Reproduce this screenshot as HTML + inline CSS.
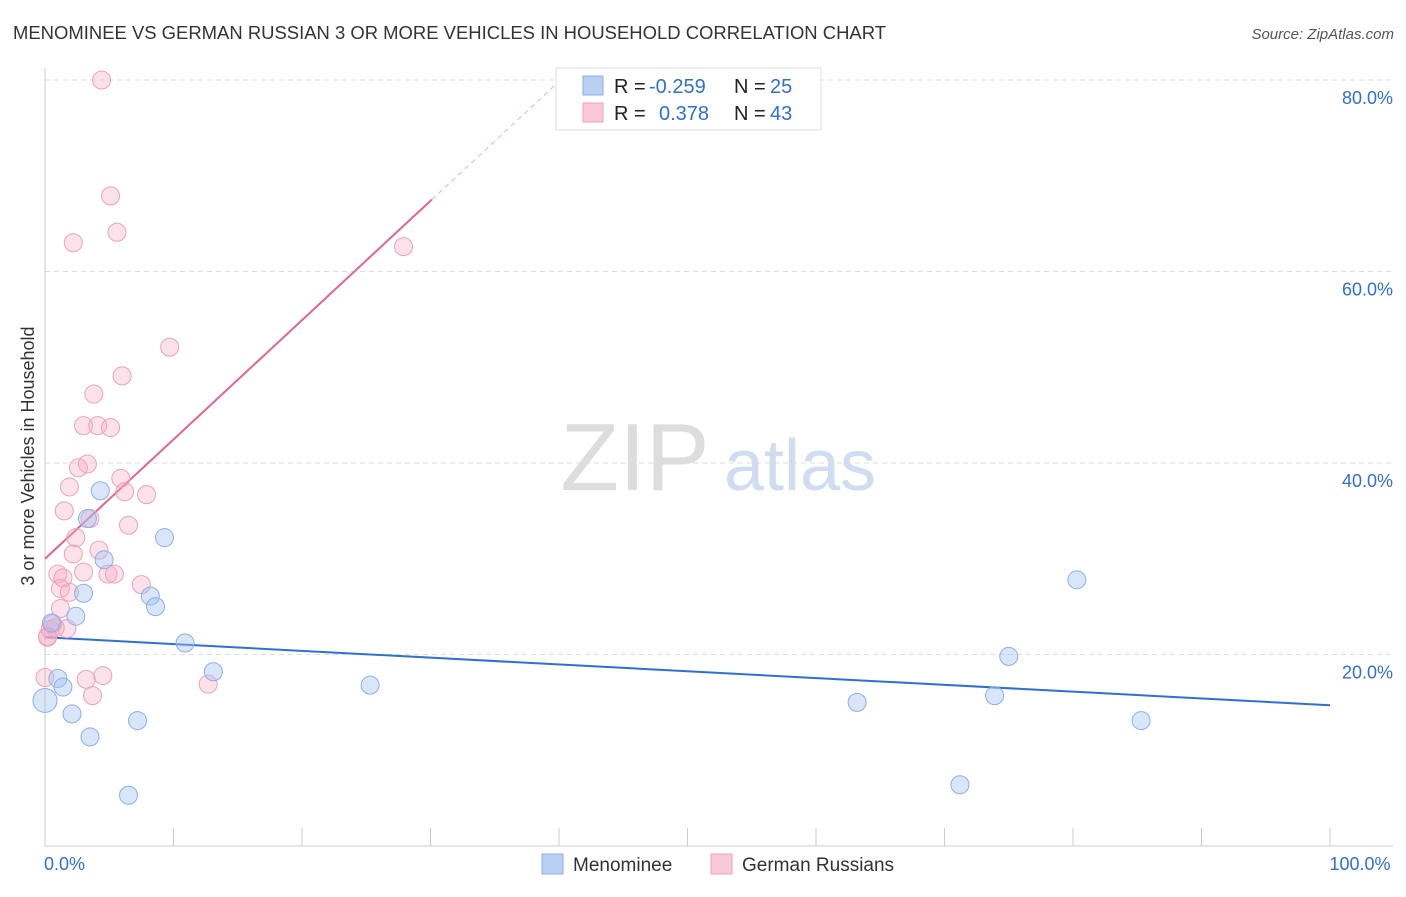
<!DOCTYPE html>
<html><head><meta charset="utf-8">
<style>
body{margin:0;background:#fff;font-family:"Liberation Sans",sans-serif;}
svg text{font-family:"Liberation Sans",sans-serif;}
</style></head>
<body>
<svg id="chart" width="1406" height="892">
<text x="13" y="39" font-size="18" fill="#333" textLength="873" lengthAdjust="spacingAndGlyphs">MENOMINEE VS GERMAN RUSSIAN 3 OR MORE VEHICLES IN HOUSEHOLD CORRELATION CHART</text>
<text x="1394" y="39" font-size="15" fill="#555" font-style="italic" text-anchor="end">Source: ZipAtlas.com</text>
<text x="34" y="456" font-size="18" fill="#333" text-anchor="middle" transform="rotate(-90 34 456)">3 or more Vehicles in Household</text>
<g><text x="635" y="490" font-size="96" font-family="Liberation Serif" fill="#ddd" text-anchor="middle">ZIP</text><text x="800" y="490" font-size="72" fill="#cfdcf2" text-anchor="middle">atlas</text></g>
<g id="grid"></g><g id="axes"></g><g id="trend"></g><g id="pts"></g>
<g>
<rect x="556" y="68" width="265" height="62" fill="#fff" stroke="#ddd"/>
<rect x="583" y="76" width="20" height="19" fill="#b8d0f4" stroke="#8ab0e8"/>
<rect x="583" y="103" width="20" height="19" fill="#f9c8d8" stroke="#f0a0bc"/>
<text x="614" y="93" font-size="20" fill="#222">R =</text><text x="649" y="93" font-size="20" fill="#2f6fd6">-0.259</text>
<text x="734" y="93" font-size="20" fill="#222">N =</text><text x="770" y="93" font-size="20" fill="#2f6fd6">25</text>
<text x="614" y="120" font-size="20" fill="#222">R =</text><text x="659" y="120" font-size="20" fill="#2f6fd6">0.378</text>
<text x="734" y="120" font-size="20" fill="#222">N =</text><text x="770" y="120" font-size="20" fill="#2f6fd6">43</text>
</g>
<g>
<rect x="542" y="854" width="21" height="20" fill="#b8d0f4" stroke="#8ab0e8"/>
<text x="573" y="871" font-size="19" fill="#333">Menominee</text>
<rect x="711" y="854" width="21" height="20" fill="#f9c8d8" stroke="#f0a0bc"/>
<text x="742" y="871" font-size="19" fill="#333">German Russians</text>
</g>
</svg>
<script>
const blueX=[0,1.0,1.4,2.1,3.5,2.4,3.0,4.3,3.3,4.6,7.2,6.5,8.2,8.6,9.3,10.9,13.1,25.3,63.2,71.2,73.9,75.0,80.3,85.3,0.5];
const blueY=[15.2,17.5,16.6,13.8,11.4,24.0,26.4,37.1,34.2,29.9,13.1,5.3,26.1,25.0,32.2,21.2,18.2,16.8,15.0,6.4,15.7,19.8,27.8,13.1,23.3];
const pinkX=[4.4,5.1,5.6,2.2,27.9,9.7,6.0,3.8,3.0,4.1,5.1,3.3,2.6,5.9,1.9,6.2,7.9,1.5,3.5,6.5,2.4,2.2,4.2,1.0,1.4,3.0,4.9,5.4,7.5,1.2,1.9,1.2,0.6,1.7,0.4,0.2,0,3.2,4.5,3.7,12.7,0.8,0.2];
const pinkY=[80.0,67.9,64.1,63.0,62.6,52.1,49.1,47.2,43.9,43.9,43.7,39.9,39.5,38.4,37.5,37.0,36.7,35.0,34.2,33.5,32.2,30.5,30.9,28.4,28.0,28.6,28.4,28.4,27.3,26.9,26.5,24.8,23.2,22.7,22.6,21.9,17.6,17.4,17.8,15.7,16.9,22.8,21.8];
const yTicks=[20,40,60,80];
const xTickLabels=["0.0%","100.0%"];
const blueTrend=[21.8,14.7];
const pinkTrend=[30.0,1.246];
const NS="http://www.w3.org/2000/svg";
const sx=v=>45+v*12.85, sy=v=>846-v*9.575;
function mk(t,a,p){const e=document.createElementNS(NS,t);for(const k in a)e.setAttribute(k,a[k]);p.appendChild(e);return e;}
const grid=document.getElementById('grid'),axes=document.getElementById('axes');
yTicks.forEach(t=>{
 const l=mk('line',{x1:45,x2:1393,y1:sy(t),y2:sy(t),stroke:'#ddd','stroke-dasharray':'5,4'},grid);
 
 
 const tx=mk('text',{x:1393,y:sy(t)+24,'font-size':18,fill:'#2f6fd6','text-anchor':'end'},axes);tx.textContent=t.toFixed(1)+'%';
 
 
});
mk('line',{x1:45,x2:45,y1:68,y2:846,stroke:'#ccc'},axes);
mk('line',{x1:45,x2:1393,y1:846,y2:846,stroke:'#ccc'},axes);
for(let i=0;i<=10;i++){mk('line',{x1:sx(i*10),x2:sx(i*10),y1:828,y2:846,stroke:'#ccc'},axes);}
[[0,'start',44],[100,'middle',sx(100)+30]].forEach((d,i)=>{const t=mk('text',{x:d[2],y:870,'font-size':18,fill:'#2f6fd6','text-anchor':d[1]},axes);t.textContent=xTickLabels[i];
 
 });
const tr=document.getElementById('trend');
const bl=mk('line',{x1:sx(0),y1:sy(blueTrend[0]),x2:sx(100),y2:sy(blueTrend[1]),stroke:'#2f6fd6','stroke-width':2},tr);


const pe=30.1, pd=(80-pinkTrend[0])/pinkTrend[1];
const pl=mk('line',{x1:sx(0),y1:sy(pinkTrend[0]),x2:sx(pe),y2:sy(pinkTrend[0]+pinkTrend[1]*pe),stroke:'#e8638f','stroke-width':2},tr);


mk('line',{x1:sx(pe),y1:sy(pinkTrend[0]+pinkTrend[1]*pe),x2:sx(pd),y2:sy(80),stroke:'#f0b0c4','stroke-width':1,'stroke-dasharray':'5,4'},tr);
const pts=document.getElementById('pts');
pinkX.forEach((x,i)=>{const c=mk('circle',{cx:sx(x),cy:sy(pinkY[i]),r:9,fill:'rgba(244,170,196,0.35)',stroke:'#f0a0bc','stroke-width':1},pts);
 
 });
blueX.forEach((x,i)=>{const c=mk('circle',{cx:sx(x),cy:sy(blueY[i]),r:i===0?12:9,fill:'rgba(160,192,240,0.4)',stroke:'#8ab0e8','stroke-width':1},pts);
 
 });
</script>
</body></html>
